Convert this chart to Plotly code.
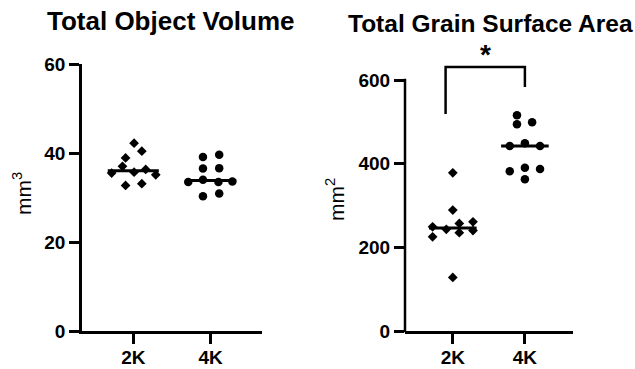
import numpy as np
import plotly.graph_objects as go

W, H = 635, 369

categories = ["2K", "4K"]

# Total Object Volume (mm^3)
volume_2k = [42.2, 38.9, 40.4, 37.0, 35.5, 35.7, 36.3, 35.1, 32.7, 33.1]
volume_4k = [39.1, 39.6, 36.5, 36.6, 33.5, 34.0, 33.5, 33.6, 30.3, 30.9]

# Total Grain Surface Area (mm^2)
area_2k = [378, 289, 249, 243, 257, 235, 261, 240, 225, 128]
area_4k = [516, 494, 499, 442, 449, 442, 382, 390, 387, 363]

# horizontal scatter offsets (category units) as placed in the picture
jit_vol_2k = [0.01, -0.10, 0.11, -0.14, -0.28, 0.01, 0.16, 0.29, -0.10, 0.11]
jit_vol_4k = [-0.10, 0.11, -0.10, 0.11, -0.29, -0.10, 0.10, 0.28, -0.10, 0.11]
jit_area_2k = [0.0, 0.0, -0.28, -0.09, 0.09, 0.09, 0.28, 0.28, -0.28, 0.0]
jit_area_4k = [-0.11, -0.11, 0.10, -0.21, 0.0, 0.21, -0.21, 0.0, 0.21, 0.0]

# significance bracket (2K -> 4K) and star
bracket_x = [-0.1, -0.1, 1.0, 1.0]
bracket_y = [519, 631, 631, 583]
star_x, star_y = 0.455, 661

FONT = "Liberation Sans"


def px_x(p):
    return p / W


def px_y(p):
    return 1 - p / H


fig = go.Figure()

groups = [
    ("x", "y", volume_2k, jit_vol_2k, 0, "diamond", 7.5),
    ("x", "y", volume_4k, jit_vol_4k, 1, "circle", 8.5),
    ("x2", "y2", area_2k, jit_area_2k, 0, "diamond", 7.5),
    ("x2", "y2", area_4k, jit_area_4k, 1, "circle", 8.5),
]
for xa, ya, vals, jit, ci, sym, sz in groups:
    fig.add_trace(go.Scatter(
        x=[ci + j for j in jit], y=vals, mode="markers", xaxis=xa, yaxis=ya,
        marker=dict(symbol=sym, size=sz, color="black", line=dict(width=0)),
        showlegend=False, hoverinfo="y", cliponaxis=False))
    med = float(np.median(vals))
    fig.add_trace(go.Scatter(
        x=[ci - 0.33, ci + 0.33], y=[med, med], mode="lines", xaxis=xa, yaxis=ya,
        line=dict(color="black", width=3), showlegend=False, hoverinfo="skip"))

fig.add_trace(go.Scatter(
    x=bracket_x, y=bracket_y, mode="lines", xaxis="x2", yaxis="y2",
    line=dict(color="black", width=2.5), showlegend=False, hoverinfo="skip"))

# geometry
xr = [-0.663, 1.663]
L_dom = [px_x(82), px_x(262)]
R_dom = [px_x(405), px_x(572.7)]
bottom = px_y(331)
L_top = px_y(64)
R_max = 680
R_top_px = 331 - R_max * (331 - 80) / 600
R_top = px_y(R_top_px)

tickfont = dict(family=FONT, size=19, color="black", weight="bold")
common_x = dict(range=xr, tickvals=[0, 1], ticktext=categories, showgrid=False,
                zeroline=False, showline=True, linecolor="black", linewidth=2.5,
                ticks="outside", ticklen=10, tickwidth=2.5, tickcolor="black",
                tickfont=tickfont, fixedrange=True, automargin=False,
                ticklabelstandoff=-3)
common_y = dict(showgrid=False, zeroline=False, linecolor="black", linewidth=2.5,
                ticks="outside", ticklen=10, tickwidth=2.5, tickcolor="black",
                tickfont=tickfont, fixedrange=True, automargin=False)

fig.update_layout(
    width=W, height=H, margin=dict(l=0, r=0, t=0, b=0, pad=0, autoexpand=False),
    paper_bgcolor="white", plot_bgcolor="white",
    xaxis=dict(domain=L_dom, anchor="y", **common_x),
    yaxis=dict(domain=[bottom, L_top], anchor="x", range=[0, 60],
               tickvals=[0, 20, 40, 60], showline=True, **common_y),
    xaxis2=dict(domain=R_dom, anchor="y2", **common_x),
    yaxis2=dict(domain=[bottom, R_top], anchor="x2", range=[0, R_max],
                tickvals=[0, 200, 400, 600], showline=False, **common_y),
)

# right y-axis line only up to 600
fig.add_shape(type="line", xref="paper", yref="paper",
              x0=R_dom[0], x1=R_dom[0], y0=bottom - 1.25 / H,
              y1=bottom + (600 / R_max) * (R_top - bottom) + 1.25 / H,
              line=dict(color="black", width=2.5))

fig.add_annotation(text="Total Object Volume", x=px_x(171.5), y=px_y(21),
                   xref="paper", yref="paper", showarrow=False,
                   xanchor="center", yanchor="middle",
                   font=dict(family=FONT, size=26, color="black", weight="bold"))
fig.add_annotation(text="Total Grain Surface Area", x=px_x(490), y=px_y(23),
                   xref="paper", yref="paper", showarrow=False,
                   xanchor="center", yanchor="middle",
                   font=dict(family=FONT, size=24.5, color="black", weight="bold"))

lab_font = dict(family=FONT, size=21, color="black")
fig.add_annotation(text="mm<sup>3</sup>", x=px_x(22), y=px_y(194), xref="paper",
                   yref="paper", showarrow=False, textangle=-90,
                   xanchor="center", yanchor="middle", font=lab_font)
fig.add_annotation(text="mm<sup>2</sup>", x=px_x(335), y=px_y(199), xref="paper",
                   yref="paper", showarrow=False, textangle=-90,
                   xanchor="center", yanchor="middle", font=lab_font)

fig.add_annotation(text="*", x=star_x, y=star_y, xref="x2", yref="y2",
                   showarrow=False, xanchor="center", yanchor="middle",
                   font=dict(family=FONT, size=28, color="black", weight="bold"))

fig.write_html("out.html")
